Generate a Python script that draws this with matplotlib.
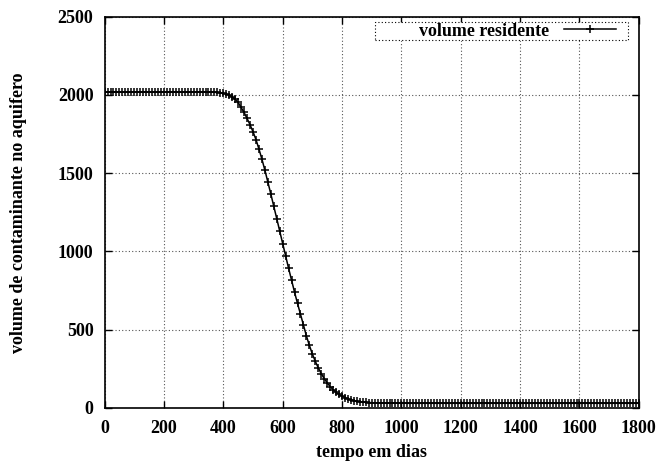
import numpy as np
import matplotlib.pyplot as plt
from matplotlib.patches import Rectangle

out_file = "out.png"

# tempo (dias), one sample every 10 days
dias = np.arange(0, 1801, 10)

# volume residente
volume = [
    2018, 2018, 2018, 2018, 2018, 2018, 2018, 2018, 2018, 2018,  # 0-90
    2018, 2018, 2018, 2018, 2018, 2018, 2018, 2018, 2018, 2018,  # 100-190
    2018, 2018, 2018, 2018, 2018, 2018, 2018, 2018, 2018, 2018,  # 200-290
    2018, 2018, 2018, 2018, 2018, 2018, 2018, 2017, 2016, 2014,  # 300-390
    2011, 2006, 1998, 1987, 1972, 1952, 1920, 1888, 1850, 1810,  # 400-490
    1765, 1715, 1655, 1590, 1520, 1445, 1368, 1290, 1210, 1130,  # 500-590
    1050, 970, 892, 815, 740, 668, 600, 530, 460, 400,           # 600-690
    345, 298, 256, 219, 188, 160, 137, 117, 100, 87,             # 700-790
    76, 66, 58, 52, 47, 43, 40, 38, 36, 35,                      # 800-890
    34, 33, 32, 32, 32, 31, 31, 31, 31, 31,                      # 900-990
    31, 31, 30, 30, 30, 30, 30, 30, 30, 30,                      # 1000-1090
    30, 30, 30, 30, 30, 30, 30, 30, 30, 30,                      # 1100-1190
    30, 30, 30, 30, 30, 30, 30, 30, 30, 30,                      # 1200-1290
    30, 30, 30, 30, 30, 30, 30, 30, 30, 30,                      # 1300-1390
    30, 30, 30, 30, 30, 30, 30, 30, 30, 30,                      # 1400-1490
    30, 30, 30, 30, 30, 30, 30, 30, 30, 30,                      # 1500-1590
    30, 30, 30, 30, 30, 30, 30, 30, 30, 30,                      # 1600-1690
    30, 30, 30, 30, 30, 30, 30, 30, 30, 30,                      # 1700-1790
    30,                                                          # 1800
]

x_ticks = list(range(0, 1801, 200))
y_ticks = list(range(0, 2501, 500))

plt.rcParams["font.family"] = ["Liberation Serif", "DejaVu Serif"]
plt.rcParams["font.weight"] = "bold"
plt.rcParams["font.size"] = 13

fig = plt.figure(figsize=(6.62, 4.65), dpi=100)
ax = fig.add_axes([0.158, 0.1226, 0.807, 0.8415])

ax.plot(dias, volume, color="black", lw=1.1, marker="+", ms=5.5, mew=1.1,
        label="volume residente")

ax.set_xlim(0, 1800)
ax.set_ylim(0, 2500)
ax.set_xticks(x_ticks)
ax.set_yticks(y_ticks)
ax.tick_params(direction="in", length=5, width=1, top=True, right=True)
ax.tick_params(axis="x", pad=9)
ax.tick_params(axis="y", pad=8)
for lab in ax.get_xticklabels() + ax.get_yticklabels():
    lab.set_fontweight("bold")
ax.grid(True, linestyle=(0, (1, 2)), color="#555555", lw=0.8)
for s in ax.spines.values():
    s.set_linewidth(1.2)

ax.set_xlabel("tempo em dias", fontweight="bold", labelpad=5)
ax.set_ylabel("volume de contaminante no aquifero", fontweight="bold", labelpad=22)

# dotted key box like gnuplot
ax.add_patch(Rectangle((0.506, 0.940), 0.473, 0.046, transform=ax.transAxes,
                       fill=True, facecolor="white", edgecolor="black",
                       lw=0.8, linestyle=(0, (1, 2)), zorder=3))
leg = ax.legend(loc="center right", bbox_to_anchor=(0.958, 0.963), frameon=False,
                markerfirst=False, handlelength=2.9, handletextpad=0.8,
                borderpad=0, borderaxespad=0)
leg.set_zorder(4)

plt.savefig(out_file, dpi=100)
plt.close(fig)
print(f"Saved: {out_file}")
